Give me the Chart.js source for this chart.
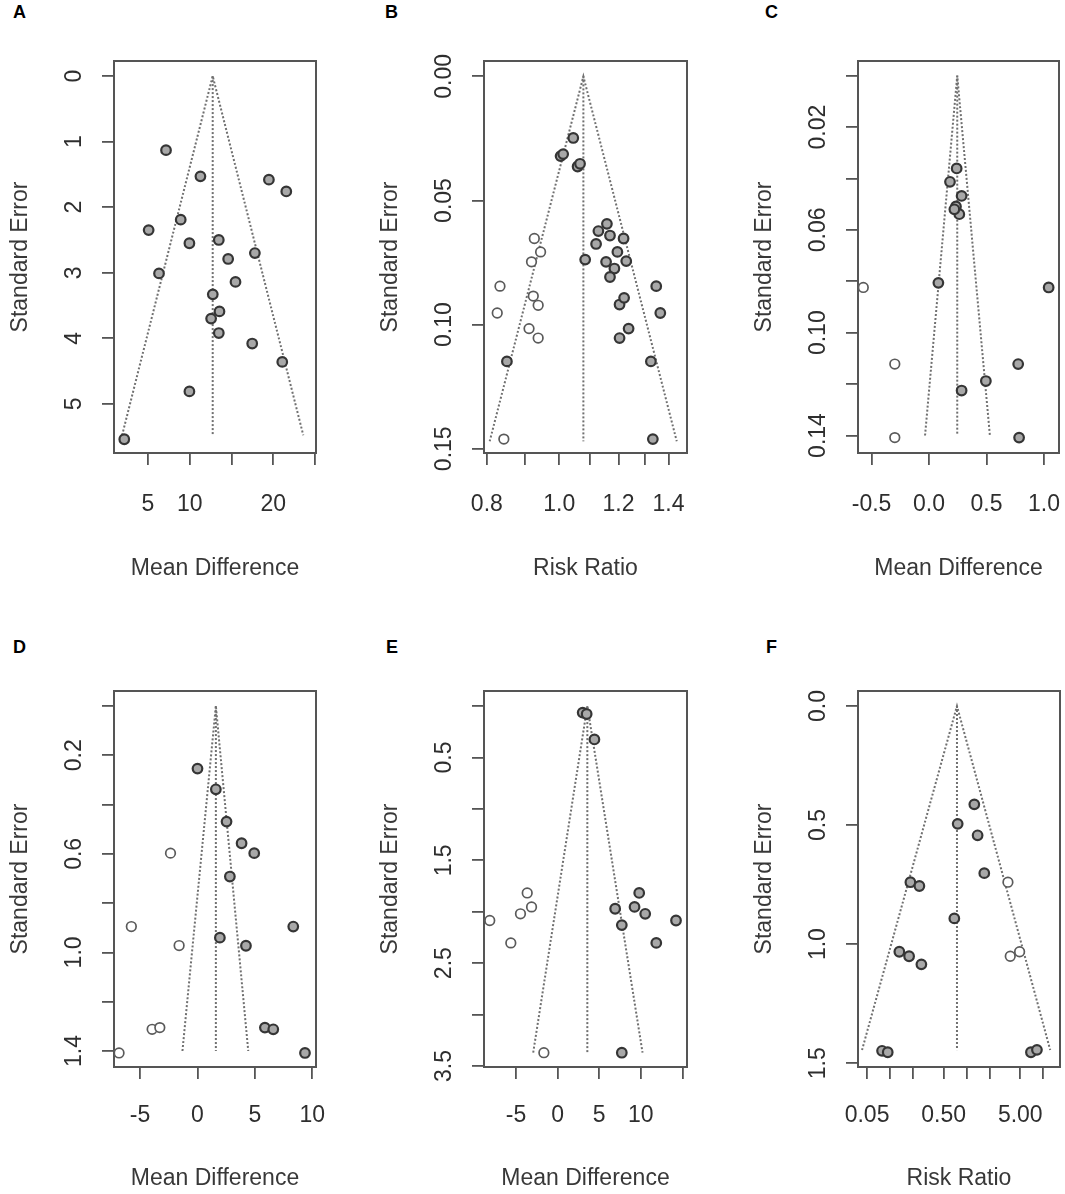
<!DOCTYPE html>
<html>
<head>
<meta charset="utf-8">
<script src="https://cdn.jsdelivr.net/npm/chart.js@4.4.1/dist/chart.umd.min.js"></script>
<style>
  html, body { margin: 0; padding: 0; background: #fff; overflow: hidden; }
  body { width: 1065px; height: 1194px; position: relative; font-family: "Liberation Sans", Arial, sans-serif; }
  .tag { position: absolute; font-weight: bold; font-size: 18px; line-height: 18px; color: #000; }
</style>
</head>
<body>
<div class="tag" style="left:13px;top:3px">A</div>
<div class="tag" style="left:385px;top:3px">B</div>
<div class="tag" style="left:765px;top:3px">C</div>
<div class="tag" style="left:13px;top:638px">D</div>
<div class="tag" style="left:386px;top:638px">E</div>
<div class="tag" style="left:766px;top:638px">F</div>
<script>
// ---- A: mean difference ----
const aFilledX = [7.16, 11.28, 19.48, 21.56, 8.92, 5.08, 9.96, 13.48, 17.8, 14.6, 6.32, 15.48, 12.76, 13.56, 12.56, 13.48, 17.48, 21.08, 9.96, 2.16];
const aFilledY = [1.13, 1.53, 1.58, 1.76, 2.19, 2.35, 2.55, 2.50, 2.70, 2.79, 3.01, 3.14, 3.33, 3.59, 3.70, 3.92, 4.08, 4.36, 4.81, 5.54];
const aOpenX = [];
const aOpenY = [];
const aFunnel = [1.9, 12.75, 23.6, 5.48]; // low, centre, high, max SE
const aXTicks = [5, 10, 15, 20, 25];
const aXLabels = ["5", "10", "", "20", ""];
const aYTicks = [0, 1, 2, 3, 4, 5];
const aYLabels = ["0", "1", "2", "3", "4", "5"];

// ---- B: risk ratio ----
const bFilledX = [1.044, 1.004, 1.012, 1.058, 1.066, 1.158, 1.128, 1.169, 1.120, 1.219, 1.083, 1.155, 1.196, 1.229, 1.185, 1.169, 1.204, 1.221, 1.204, 1.238, 1.326, 1.348, 1.365, 1.334, 0.851];
const bFilledY = [0.0248, 0.0321, 0.0313, 0.0363, 0.0352, 0.0594, 0.0623, 0.0641, 0.0675, 0.0653, 0.0738, 0.0747, 0.0707, 0.0744, 0.0774, 0.0808, 0.0919, 0.0892, 0.1054, 0.1016, 0.1148, 0.0845, 0.0953, 0.1461, 0.1148];
const bOpenX = [0.926, 0.944, 0.918, 0.923, 0.937, 0.911, 0.937, 0.833, 0.826, 0.843];
const bOpenY = [0.0653, 0.0707, 0.0747, 0.0885, 0.0922, 0.1016, 0.1054, 0.0845, 0.0953, 0.1461];
const bFunnel = [0.807, 1.077, 1.436, 0.147];
const bXTicks = [0.8, 0.9, 1.0, 1.1, 1.2, 1.3, 1.4];
const bXLabels = ["0.8", "", "1.0", "", "1.2", "", "1.4"];
const bYTicks = [0, 0.05, 0.10, 0.15];
const bYLabels = ["0.00", "0.05", "0.10", "0.15"];

// ---- C: mean difference ----
const cFilledX = [0.240, 0.182, 0.283, 0.234, 0.263, 0.220, 0.081, 1.040, 0.494, 0.283, 0.775, 0.783];
const cFilledY = [0.0361, 0.0413, 0.0468, 0.0509, 0.0539, 0.0520, 0.0806, 0.0824, 0.1188, 0.1225, 0.1122, 0.1408];
const cOpenX = [-0.572, -0.298, -0.298];
const cOpenY = [0.0824, 0.1122, 0.1408];
const cFunnel = [-0.035, 0.245, 0.529, 0.14];
const cXTicks = [-0.5, 0, 0.5, 1.0];
const cXLabels = ["-0.5", "0.0", "0.5", "1.0"];
const cYTicks = [0, 0.02, 0.04, 0.06, 0.08, 0.10, 0.12, 0.14];
const cYLabels = ["", "0.02", "", "0.06", "", "0.10", "", "0.14"];

// ---- D: mean difference ----
const dFilledX = [0.0, 1.60, 2.53, 3.84, 4.94, 2.82, 1.95, 4.22, 8.34, 5.87, 6.60, 9.36];
const dFilledY = [0.254, 0.338, 0.469, 0.557, 0.597, 0.692, 0.940, 0.973, 0.895, 1.305, 1.312, 1.408];
const dOpenX = [-2.35, -5.76, -1.60, -3.95, -3.28, -6.83];
const dOpenY = [0.597, 0.895, 0.972, 1.312, 1.305, 1.408];
const dFunnel = [-1.31, 1.6, 4.42, 1.4];
const dXTicks = [-5, 0, 5, 10];
const dXLabels = ["-5", "0", "5", "10"];
const dYTicks = [0, 0.2, 0.4, 0.6, 0.8, 1.0, 1.2, 1.4];
const dYLabels = ["", "0.2", "", "0.6", "", "1.0", "", "1.4"];

// ---- E: mean difference ----
const eFilledX = [3.01, 3.49, 4.42, 6.91, 7.71, 9.24, 9.80, 10.52, 14.22, 11.85, 7.71];
const eFilledY = [0.063, 0.077, 0.324, 1.971, 2.130, 1.953, 1.817, 2.020, 2.085, 2.303, 3.371];
const eOpenX = [-8.15, -5.62, -4.46, -3.13, -3.65, -1.65];
const eOpenY = [2.085, 2.303, 2.020, 1.953, 1.817, 3.371];
const eFunnel = [-2.93, 3.57, 10.2, 3.37];
const eXTicks = [-5, 0, 5, 10, 15];
const eXLabels = ["-5", "0", "5", "10", ""];
const eYTicks = [0, 0.5, 1.0, 1.5, 2.0, 2.5, 3.0, 3.5];
const eYLabels = ["", "0.5", "", "1.5", "", "2.5", "", "3.5"];

// ---- F: risk ratio ----
const fFilledX = [1.256, 0.762, 1.387, 1.695, 0.689, 0.184, 0.241, 0.256, 0.177, 0.132, 0.0785, 0.0931, 6.89, 8.25];
const fFilledY = [0.413, 0.495, 0.543, 0.702, 0.892, 0.740, 0.756, 1.085, 1.051, 1.032, 1.448, 1.454, 1.454, 1.444];
const fOpenX = [3.45, 3.70, 4.90];
const fOpenY = [0.740, 1.051, 1.032];
const fFunnel = [0.043, 0.746, 12.3, 1.445];
const fXTicks = [0.05, 0.1, 0.2, 0.5, 1, 2, 5, 10];
const fXLabels = ["0.05", "", "", "0.50", "", "", "5.00", ""];
const fYTicks = [0, 0.5, 1.0, 1.5];
const fYLabels = ["0.0", "0.5", "1.0", "1.5"];

const FAMILY = '"Liberation Sans", Arial, Helvetica, sans-serif';
const FSIZE = 23;
const Y_AXIS_W = 114;
const TICK_LEN = 12;
const RIGHT_PAD = 30;

Chart.defaults.font.family = FAMILY;
Chart.defaults.color = "#2e2e2e";

// box round the plot region, like R's box()
const boxPlugin = {
  id: "box",
  beforeDatasetsDraw(chart) {
    const { ctx, chartArea: a } = chart;
    ctx.save();
    ctx.strokeStyle = "#555";
    ctx.lineWidth = 2;
    ctx.strokeRect(a.left, a.top, a.right - a.left, a.bottom - a.top);
    ctx.restore();
  },
};

function widest(labels) {
  const ctx = document.createElement("canvas").getContext("2d");
  ctx.font = `${FSIZE}px ${FAMILY}`;
  return Math.max(...labels.map((l) => ctx.measureText(l).width));
}

function toPoints(xs, ys) {
  return xs.map((x, i) => ({ x: x, y: ys[i] }));
}

function noPadding(s) {
  s.paddingLeft = 0;
  s.paddingRight = 0;
  s.paddingTop = 0;
  s.paddingBottom = 0;
}

function makePanel(p) {
  const [L, T, R, B] = p.box;
  const w = R - L + Y_AXIS_W + RIGHT_PAD;
  const h = B - T + 61 + p.row.xAxisH;
  const canvas = document.createElement("canvas");
  canvas.width = w;
  canvas.height = h;
  canvas.style.cssText = `position:absolute;left:${L - Y_AXIS_W}px;top:${T - 61}px;width:${w}px;height:${h}px`;
  document.body.appendChild(canvas);

  const f = p.funnel;
  const line = { showLine: true, borderColor: "#707070", borderWidth: 2, borderDash: [2, 2], pointRadius: 0, fill: false };
  const grid = { display: true, drawOnChartArea: false, drawTicks: true, tickLength: TICK_LEN, color: "#555", lineWidth: 1.8 };
  const tickFont = { family: FAMILY, size: FSIZE };

  new Chart(canvas, {
    type: "scatter",
    data: {
      datasets: [
        { data: toPoints(p.filledX, p.filledY), pointRadius: 4.8, pointBorderWidth: 2.2, pointBorderColor: "#353535", pointBackgroundColor: "#a8a8a8", clip: false },
        { data: toPoints(p.openX, p.openY), pointRadius: 4.8, pointBorderWidth: 1.7, pointBorderColor: "#5a5a5a", pointBackgroundColor: "#fff", clip: false },
        { data: [{ x: f[0], y: f[3] }, { x: f[1], y: 0 }, { x: f[2], y: f[3] }], ...line },
        { data: [{ x: f[1], y: 0 }, { x: f[1], y: f[3] }], ...line },
      ],
    },
    options: {
      responsive: false,
      animation: false,
      layout: { padding: { left: 0, top: 61, right: RIGHT_PAD, bottom: 0 } },
      plugins: { legend: { display: false }, tooltip: { enabled: false } },
      scales: {
        x: {
          type: p.logX ? "logarithmic" : "linear",
          min: p.xRange[0],
          max: p.xRange[1],
          bounds: "data",
          afterBuildTicks: (s) => { s.ticks = p.xTicks.map((v) => ({ value: v })); },
          afterFit: (s) => { s.height = p.row.xAxisH; noPadding(s); },
          grid: grid,
          border: { display: false },
          ticks: {
            autoSkip: false, minRotation: 0, maxRotation: 0,
            padding: p.row.tickPad, font: tickFont,
            callback: (v, i) => p.xLabels[i],
          },
          title: { display: true, text: p.xTitle, color: "#383838", font: tickFont, padding: { top: 0, bottom: p.row.titlePad } },
        },
        y: {
          type: "linear",
          reverse: true,
          min: p.yRange[0],
          max: p.yRange[1],
          bounds: "data",
          afterBuildTicks: (s) => { s.ticks = p.yTicks.map((v) => ({ value: v })); },
          afterFit: (s) => { s.width = Y_AXIS_W; noPadding(s); },
          grid: grid,
          border: { display: false },
          ticks: {
            autoSkip: false, minRotation: 90, maxRotation: 90, crossAlign: "center",
            padding: 39.5 - TICK_LEN - widest(p.yLabels) / 2, font: tickFont,
            callback: (v, i) => p.yLabels[i],
          },
          title: { display: true, text: "Standard Error", color: "#383838", font: tickFont, padding: { top: 7.2, bottom: 0 } },
        },
      },
    },
    plugins: [boxPlugin],
  });
}

const topRow = { xAxisH: 140, tickPad: 26, titlePad: 11 };
const bottomRow = { xAxisH: 127, tickPad: 23, titlePad: 2 };

makePanel({ box: [114, 61, 316, 453], row: topRow, xTitle: "Mean Difference", logX: false,
  xRange: [0.93, 25.12], yRange: [-0.23, 5.75],
  filledX: aFilledX, filledY: aFilledY, openX: aOpenX, openY: aOpenY, funnel: aFunnel,
  xTicks: aXTicks, xLabels: aXLabels, yTicks: aYTicks, yLabels: aYLabels });

makePanel({ box: [484, 61, 687, 453], row: topRow, xTitle: "Risk Ratio", logX: true,
  xRange: [0.793, 1.482], yRange: [-0.0062, 0.1517],
  filledX: bFilledX, filledY: bFilledY, openX: bOpenX, openY: bOpenY, funnel: bFunnel,
  xTicks: bXTicks, xLabels: bXLabels, yTicks: bYTicks, yLabels: bYLabels });

makePanel({ box: [858, 61, 1059, 453], row: topRow, xTitle: "Mean Difference", logX: false,
  xRange: [-0.618, 1.13], yRange: [-0.0057, 0.1468],
  filledX: cFilledX, filledY: cFilledY, openX: cOpenX, openY: cOpenY, funnel: cFunnel,
  xTicks: cXTicks, xLabels: cXLabels, yTicks: cYTicks, yLabels: cYLabels });

makePanel({ box: [114, 691, 316, 1067], row: bottomRow, xTitle: "Mean Difference", logX: false,
  xRange: [-7.27, 10.32], yRange: [-0.061, 1.465],
  filledX: dFilledX, filledY: dFilledY, openX: dOpenX, openY: dOpenY, funnel: dFunnel,
  xTicks: dXTicks, xLabels: dXLabels, yTicks: dYTicks, yLabels: dYLabels });

makePanel({ box: [484, 691, 687, 1067], row: bottomRow, xTitle: "Mean Difference", logX: false,
  xRange: [-8.84, 15.54], yRange: [-0.147, 3.51],
  filledX: eFilledX, filledY: eFilledY, openX: eOpenX, openY: eOpenY, funnel: eFunnel,
  xTicks: eXTicks, xLabels: eXLabels, yTicks: eYTicks, yLabels: eYLabels });

makePanel({ box: [858, 691, 1060, 1067], row: bottomRow, xTitle: "Risk Ratio", logX: true,
  xRange: [0.0381, 16.5], yRange: [-0.063, 1.516],
  filledX: fFilledX, filledY: fFilledY, openX: fOpenX, openY: fOpenY, funnel: fFunnel,
  xTicks: fXTicks, xLabels: fXLabels, yTicks: fYTicks, yLabels: fYLabels });
</script>
</body>
</html>
